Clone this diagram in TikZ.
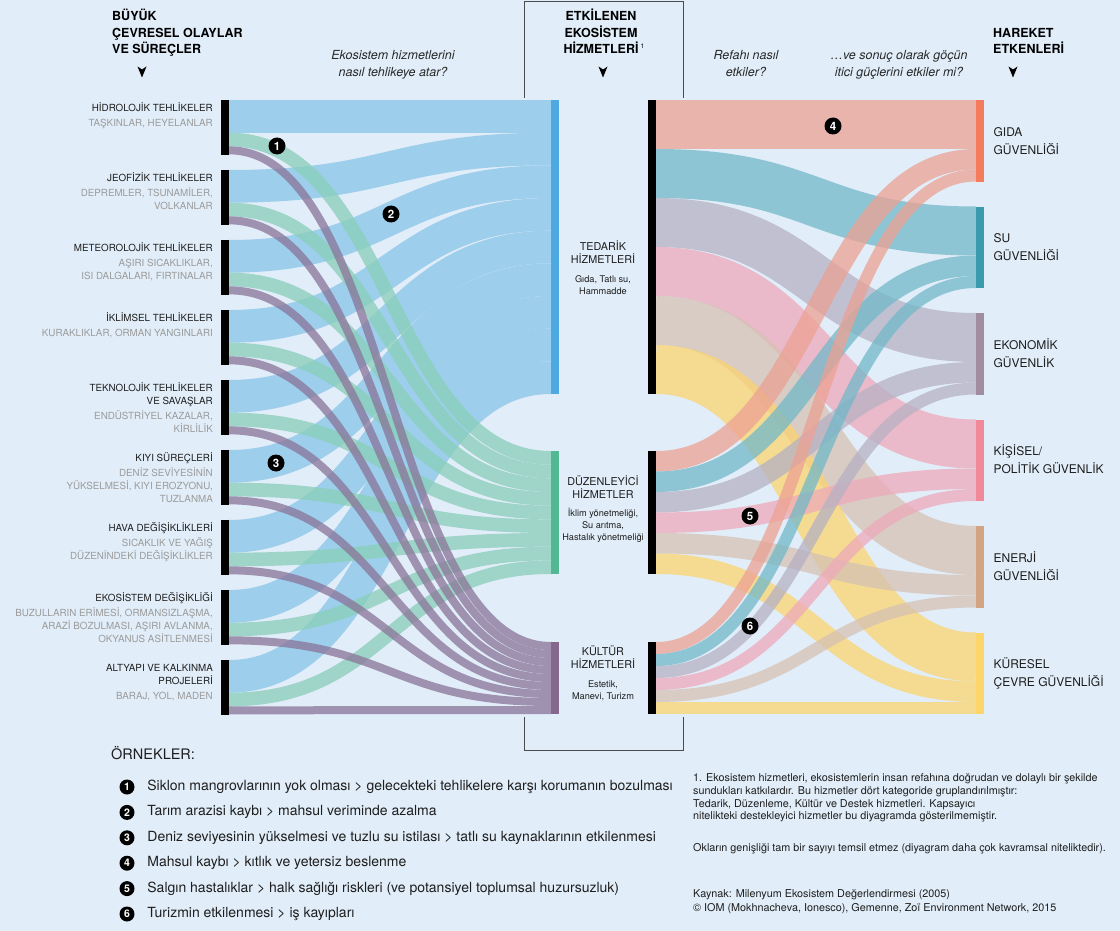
\documentclass[tikz,border=0pt]{standalone}
\usepackage{fontspec}
\setmainfont{TeX Gyre Heros}
\usetikzlibrary{positioning, calc}

\definecolor{bgcol}{RGB}{225,237,248}
\definecolor{titlegray}{RGB}{30,30,30}
\definecolor{subgray}{RGB}{155,155,155}
\definecolor{questgray}{RGB}{40,40,40}
\definecolor{boxgray}{RGB}{75,75,75}
% left flows and bars
\definecolor{flowblue}{RGB}{157,206,236}
\definecolor{fgreen}{RGB}{136,206,184}
\definecolor{fpurple}{RGB}{138,116,152}
\definecolor{barblue}{RGB}{77,169,223}
\definecolor{bargreen}{RGB}{82,184,148}
\definecolor{barpurple}{RGB}{133,105,141}
% right flows and bars
\definecolor{fsalmon}{RGB}{236,161,147}
\definecolor{fteal}{RGB}{114,184,200}
\definecolor{fmauve}{RGB}{182,177,195}
\definecolor{fpink}{RGB}{238,170,187}
\definecolor{ftan}{RGB}{214,193,179}
\definecolor{fyellow}{RGB}{252,212,111}
\definecolor{barsalmon}{RGB}{244,123,91}
\definecolor{barteal}{RGB}{58,155,172}
\definecolor{barmauve}{RGB}{160,141,160}
\definecolor{barpink}{RGB}{242,137,154}
\definecolor{bartan}{RGB}{211,163,132}
\definecolor{baryellow}{RGB}{252,214,106}

% band: x1, y1 (top), x2, y2 (top), width, style -- stroked along its middle line
\newcommand{\band}[6]{%
  \draw[line width=#5pt, #6] (#1,{#2+#5/2}) .. controls ({(#1+#3)/2},{#2+#5/2}) and ({(#1+#3)/2},{#4+#5/2}) .. (#3,{#4+#5/2});}
\newcommand{\subtxt}[1]{\textcolor{subgray}{#1}}

\begin{document}
\begin{tikzpicture}[x=1pt, y=-1pt,
    bar/.style={rectangle, inner sep=0pt, minimum width=8pt, anchor=north west},
    flowR/.style={draw=#1, draw opacity=0.75},
    srclabel/.style={anchor=north east, align=right, inner sep=0pt, text=titlegray, font=\fontsize{9.8}{13}\selectfont},
    midtitle/.style={anchor=north, align=center, inner sep=0pt, text=titlegray, font=\fontsize{10.8}{13.5}\selectfont},
    midsub/.style={anchor=north, align=center, inner sep=0pt, text=titlegray, font=\fontsize{9.2}{12.3}\selectfont},
    tgtlabel/.style={anchor=north west, align=left, inner sep=0pt, text=titlegray, font=\fontsize{12}{18}\selectfont},
    header/.style={inner sep=0pt, text=black, font=\bfseries\fontsize{12.5}{16.5}\selectfont},
    question/.style={anchor=north, align=center, inner sep=0pt, text=questgray, font=\itshape\fontsize{12.5}{16.5}\selectfont},
    numdot/.style={circle, fill=black, text=white, inner sep=0pt, minimum size=17pt, font=\bfseries\fontsize{11.5}{11.5}\selectfont},
    legdot/.style={circle, fill=black, text=white, inner sep=0pt, minimum size=15pt, font=\bfseries\fontsize{10.5}{10.5}\selectfont},
    legtext/.style={anchor=west, inner sep=0pt, text=titlegray, font=\fontsize{14}{16}\selectfont},
    foot/.style={anchor=north west, align=left, inner sep=0pt, text=titlegray, font=\fontsize{10.8}{12.7}\selectfont},
    boxline/.style={draw=boxgray, line width=0.8pt},
    downtip/.pic={\fill[black] (-4.5,-5.5) -- (0,5.5) -- (4.5,-5.5) -- (0,-2.5) -- cycle;}]

    % Background and page size
    \fill[bgcol] (0,0) rectangle (1120,931);
    \useasboundingbox (0,0) rectangle (1120,931);

    % Flows from events to ecosystem services
    \foreach \i in {0,...,8} {
        \band{229}{100+70*\i}{551}{100+32.667*\i}{32.667}{draw=flowblue}
    }
    \foreach \i in {0,...,8} {
        \band{229}{132.667+70*\i}{551}{451+13.667*\i}{13.667}{flowR=fgreen}
    }
    \foreach \i in {0,...,8} {
        \band{229}{146.333+70*\i}{551}{642+8*\i}{8}{flowR=fpurple}
    }

    % Flows from ecosystem services to drivers
    \foreach \j/\col in {0/fsalmon,1/fteal,2/fmauve,3/fpink,4/ftan,5/fyellow} {
        \band{656}{100+49*\j}{976}{100+106.5*\j}{49}{flowR=\col}
    }
    \foreach \j/\col in {0/fsalmon,1/fteal,2/fmauve,3/fpink,4/ftan,5/fyellow} {
        \band{656}{451+20.5*\j}{976}{149+106.5*\j}{20.5}{flowR=\col}
    }
    \foreach \j/\col in {0/fsalmon,1/fteal,2/fmauve,3/fpink,4/ftan,5/fyellow} {
        \band{656}{642+12*\j}{976}{169.5+106.5*\j}{12}{flowR=\col}
    }

    % Bars
    \foreach \i in {0,...,8} {
        \node[bar, fill=black, minimum height=54.33pt] (src\i) at (221,100+70*\i) {};
    }
    \node[bar, fill=barblue, minimum height=294pt] (ted) at (551,100) {};
    \node[bar, fill=bargreen, minimum height=123pt] (duz) at (551,451) {};
    \node[bar, fill=barpurple, minimum height=72pt] (kul) at (551,642) {};
    \node[bar, fill=black, minimum height=294pt] (tedb) at (648,100) {};
    \node[bar, fill=black, minimum height=123pt] (duzb) at (648,451) {};
    \node[bar, fill=black, minimum height=72pt] (kulb) at (648,642) {};
    \foreach \j/\col in {0/barsalmon,1/barteal,2/barmauve,3/barpink,4/bartan,5/baryellow} {
        \node[bar, fill=\col, minimum height=81.5pt] (tgt\j) at (976,100+106.5*\j) {};
    }

    % Event labels
    \foreach \i/\txt in {
        0/{HİDROLOJİK TEHLİKELER\\[2pt]\subtxt{TAŞKINLAR, HEYELANLAR}},
        1/{JEOFİZİK TEHLİKELER\\[2pt]\subtxt{DEPREMLER, TSUNAMİLER,}\\\subtxt{VOLKANLAR}},
        2/{METEOROLOJİK TEHLİKELER\\[2pt]\subtxt{AŞIRI SICAKLIKLAR,}\\\subtxt{ISI DALGALARI, FIRTINALAR}},
        3/{İKLİMSEL TEHLİKELER\\[2pt]\subtxt{KURAKLIKLAR, ORMAN YANGINLARI}},
        4/{TEKNOLOJİK TEHLİKELER\\VE SAVAŞLAR\\[2pt]\subtxt{ENDÜSTRİYEL KAZALAR,}\\\subtxt{KİRLİLİK}},
        5/{KIYI SÜREÇLERİ\\[2pt]\subtxt{DENİZ SEVİYESİNİN}\\\subtxt{YÜKSELMESİ, KIYI EROZYONU,}\\\subtxt{TUZLANMA}},
        6/{HAVA DEĞİŞİKLİKLERİ\\[2pt]\subtxt{SICAKLIK VE YAĞIŞ}\\\subtxt{DÜZENİNDEKİ DEĞİŞİKLİKLER}},
        7/{EKOSİSTEM DEĞİŞİKLİĞİ\\[2pt]\subtxt{BUZULLARIN ERİMESİ, ORMANSIZLAŞMA,}\\\subtxt{ARAZİ BOZULMASI, AŞIRI AVLANMA,}\\\subtxt{OKYANUS ASİTLENMESİ}},
        8/{ALTYAPI VE KALKINMA\\PROJELERİ\\[2pt]\subtxt{BARAJ, YOL, MADEN}}} {
        \node[srclabel] (srclab\i) at ([xshift=-8pt, yshift=-1.4pt]src\i.north west) {\rule{0pt}{10pt}\txt};
    }

    % Service labels
    \node[midtitle] (tedlab) at (603,239.3) {\rule{0pt}{10.8pt}TEDARİK\\HİZMETLERİ};
    \node[midsub] (tedsub) at (603,273.2) {\rule{0pt}{9.2pt}Gıda, Tatlı su,\\Hammadde};
    \node[midtitle] (duzlab) at (603,474.3) {\rule{0pt}{10.8pt}DÜZENLEYİCİ\\HİZMETLER};
    \node[midsub] (duzsub) at (603,506.7) {\rule{0pt}{9.2pt}İklim yönetmeliği,\\Su arıtma,\\Hastalık yönetmeliği};
    \node[midtitle] (kullab) at (603,644.3) {\rule{0pt}{10.8pt}KÜLTÜR\\HİZMETLERİ};
    \node[midsub] (kulsub) at (603,677.7) {\rule{0pt}{9.2pt}Estetik,\\Manevi, Turizm};

    % Driver labels
    \foreach \j/\txt in {0/{GIDA\\GÜVENLİĞİ}, 1/{SU\\GÜVENLİĞİ}, 2/{EKONOMİK\\GÜVENLİK},
        3/{KİŞİSEL/\\POLİTİK GÜVENLİK}, 4/{ENERJİ\\GÜVENLİĞİ}, 5/{KÜRESEL\\ÇEVRE GÜVENLİĞİ}} {
        \node[tgtlabel] (tgtlab\j) at ([xshift=9pt, yshift=16.7pt]tgt\j.east) {\rule{0pt}{12pt}\txt};
    }

    % Column headers
    \node[header, anchor=north west, align=left] (hleft) at (112,8) {\rule{0pt}{12.5pt}BÜYÜK\\ÇEVRESEL OLAYLAR\\VE SÜREÇLER};
    \node[header, anchor=north, align=center] (hmid) at (601,8) {\rule{0pt}{12.5pt}ETKİLENEN\\EKOSİSTEM\\HİZMETLERİ\rlap{\,\raisebox{5pt}{\mdseries\fontsize{6.5}{6.5}\selectfont 1}}};
    \node[header, anchor=north west, align=left] (hright) at (993,24.5) {\rule{0pt}{12.5pt}HAREKET\\ETKENLERİ};
    \pic at (142,72) {downtip};
    \pic at (603,72) {downtip};
    \pic at (1013,72) {downtip};

    % Questions
    \node[question] (q1) at (393,47) {\rule{0pt}{12.5pt}Ekosistem hizmetlerini\\nasıl tehlikeye atar?};
    \node[question] (q2) at (746,47) {\rule{0pt}{12.5pt}Refahı nasıl\\etkiler?};
    \node[question] (q3) at (899,47) {\rule{0pt}{12.5pt}…ve sonuç olarak göçün\\itici güçlerini etkiler mi?};

    % Frame round the middle column
    \draw[boxline] (524,98) -- (524,1) -- (683,1) -- (683,98);
    \draw[boxline] (524,717) -- (524,750) -- (683,750) -- (683,717);

    % Example markers
    \node[numdot] (num1) at (277,146) {1};
    \node[numdot] (num2) at (391,214) {2};
    \node[numdot] (num3) at (276,463) {3};
    \node[numdot] (num4) at (833,126) {4};
    \node[numdot] (num5) at (750,516) {5};
    \node[numdot] (num6) at (750,626) {6};

    % Legend
    \node[legtext, font=\fontsize{14.5}{16}\selectfont] (legtitle) at (111,753) {ÖRNEKLER:};
    \foreach \k/\txt in {
        1/{Siklon mangrovlarının yok olması > gelecekteki tehlikelere karşı korumanın bozulması},
        2/{Tarım arazisi kaybı > mahsul veriminde azalma},
        3/{Deniz seviyesinin yükselmesi ve tuzlu su istilası > tatlı su kaynaklarının etkilenmesi},
        4/{Mahsul kaybı > kıtlık ve yetersiz beslenme},
        5/{Salgın hastalıklar > halk sağlığı riskleri (ve potansiyel toplumsal huzursuzluk)},
        6/{Turizmin etkilenmesi > iş kayıpları}} {
        \node[legdot] (leg\k) at (127,761.6+25.4*\k) {\k};
        \node[legtext, right=12.5pt of leg\k] (legtxt\k) {\txt};
    }

    % Notes
    \node[foot] (note1) at (693,770.6) {\rule{0pt}{10.8pt}1. Ekosistem hizmetleri, ekosistemlerin insan refahına doğrudan ve dolaylı bir şekilde\\sundukları katkılardır. Bu hizmetler dört kategoride gruplandırılmıştır:\\Tedarik, Düzenleme, Kültür ve Destek hizmetleri. Kapsayıcı\\nitelikteki destekleyici hizmetler bu diyagramda gösterilmemiştir.};
    \node[foot] (note2) at (693,840.6) {\rule{0pt}{10.8pt}Okların genişliği tam bir sayıyı temsil etmez (diyagram daha çok kavramsal niteliktedir).};
    \node[foot, font=\fontsize{10.8}{14}\selectfont] (source) at (693,886.6) {\rule{0pt}{10.8pt}Kaynak: Milenyum Ekosistem Değerlendirmesi (2005)\\© IOM (Mokhnacheva, Ionesco), Gemenne, Zoï Environment Network, 2015};
\end{tikzpicture}
\end{document}
